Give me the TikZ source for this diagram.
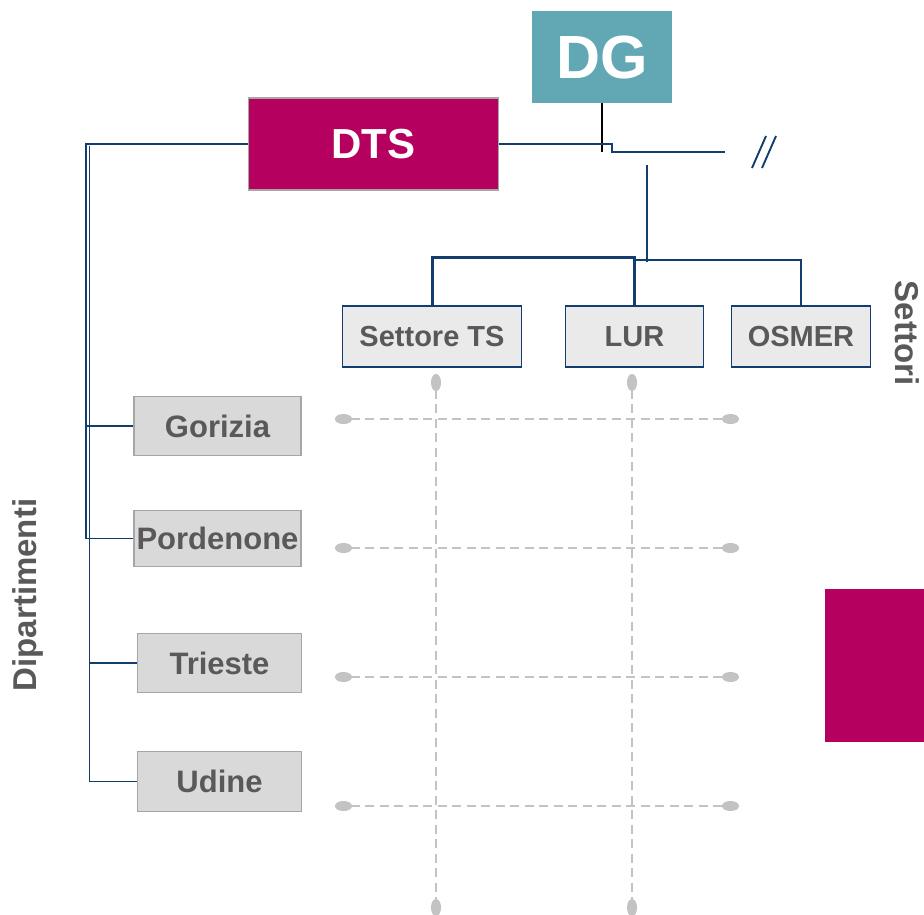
\documentclass[tikz,border=0pt]{standalone}
\usepackage{fontspec}
\setmainfont{Liberation Sans}
\usepackage{tikz}
\usetikzlibrary{arrows.meta}
\usetikzlibrary{shapes,positioning}

\definecolor{dtsmag}{HTML}{B5005F}
\definecolor{dgteal}{HTML}{62A8B4}
\definecolor{linkblue}{HTML}{123D6E}
\definecolor{txtgray}{HTML}{595959}
\definecolor{boxgray}{HTML}{D9D9D9}
\definecolor{boxlight}{HTML}{EAEAEA}
\definecolor{edgegray}{HTML}{A6A6A6}
\definecolor{dashgray}{HTML}{C3C3C3}

\tikzset{
  settbox/.style={draw=linkblue, line width=1.9pt, fill=boxlight, text=txtgray, inner sep=0pt,
    minimum height=61pt, font=\fontsize{29}{29}\selectfont\bfseries},
  depbox/.style={draw=edgegray, line width=1.8pt, fill=boxgray, text=txtgray, inner sep=0pt,
    minimum width=167pt, minimum height=59pt, font=\fontsize{31}{31}\selectfont\bfseries},
  link/.style={draw=linkblue, line width=1.9pt},
  gridline/.style={dashgray, line width=2.6pt, dash pattern=on 9pt off 5.5pt,
    {Ellipse[length=17pt,width=10pt]}-{Ellipse[length=17pt,width=10pt]}},
  sidelabel/.style={text=txtgray, font=\fontsize{33}{33}\selectfont\bfseries}
}

\begin{document}
\begin{tikzpicture}[x=1pt,y=-1pt]
        \useasboundingbox (0,0) rectangle (924,914);
        \node[fill=dgteal, text=white, minimum width=140pt, minimum height=92pt, inner sep=0pt,
              font=\fontsize{61}{61}\selectfont\bfseries] (dg) at (602,57) {DG};
        \node[fill=dtsmag, draw=edgegray, line width=1.8pt, text=white, minimum width=250pt,
              minimum height=92pt, inner sep=0pt, font=\fontsize{42}{42}\selectfont\bfseries] (dts) at (373.5,144) {DTS};
        \node[settbox, minimum width=179pt] (sts) at (432,336.5) {Settore TS};
        \node[settbox, minimum width=138pt] (lur) at (634.5,336.5) {LUR};
        \node[settbox, minimum width=139pt] (osmer) at (801,336.5) {OSMER};
        \node[depbox] (gorizia) at (217.5,426) {Gorizia};
        \node[depbox, minimum height=56pt] (pordenone) at (217.5,538.5) {Pordenone};
        \node[depbox, minimum width=164pt] (trieste) at (219.5,663) {Trieste};
        \node[depbox, minimum width=164pt, minimum height=60pt] (udine) at (219.5,781.5) {Udine};
        \node[sidelabel, rotate=90] (dip) at (28,595) {Dipartimenti};
        \node[sidelabel, rotate=-90] (sett) at (907,333) {Settori};
        \fill[dtsmag] (825,589) rectangle (924,742);

        \coordinate (dgfoot) at (602,152);
        \draw[black, line width=2.2pt] (dg.south) -- (dgfoot);
        \coordinate (cut) at (725,152);
        \draw[link] (dts.east) -- (612,144) -- (612,152) -- (cut);
        \draw[link] (752,168) -- (766,136) (762,168) -- (776,136);
        \draw[link] (647,165) -- (647,262);
        \draw[link, line width=3pt] (sts.north) -- ++(0,-48) -| (lur.north);
        \draw[link] (635,260) -| (osmer.north);

        \draw[link] (dts.west) -- (86,144) |- (pordenone.west);
        \draw[link] (86,426) -- (gorizia.west);
        \draw[link] (89.5,146) |- (udine.west);
        \draw[link] (89.5,663) -- (trieste.west);

        \foreach \y in {419,548,677,806}
            \draw[gridline] (335,\y) -- (739,\y);
        \foreach \x in {436,632}
            \draw[gridline] (\x,374) -- (\x,916);
    \end{tikzpicture}
\end{document}
